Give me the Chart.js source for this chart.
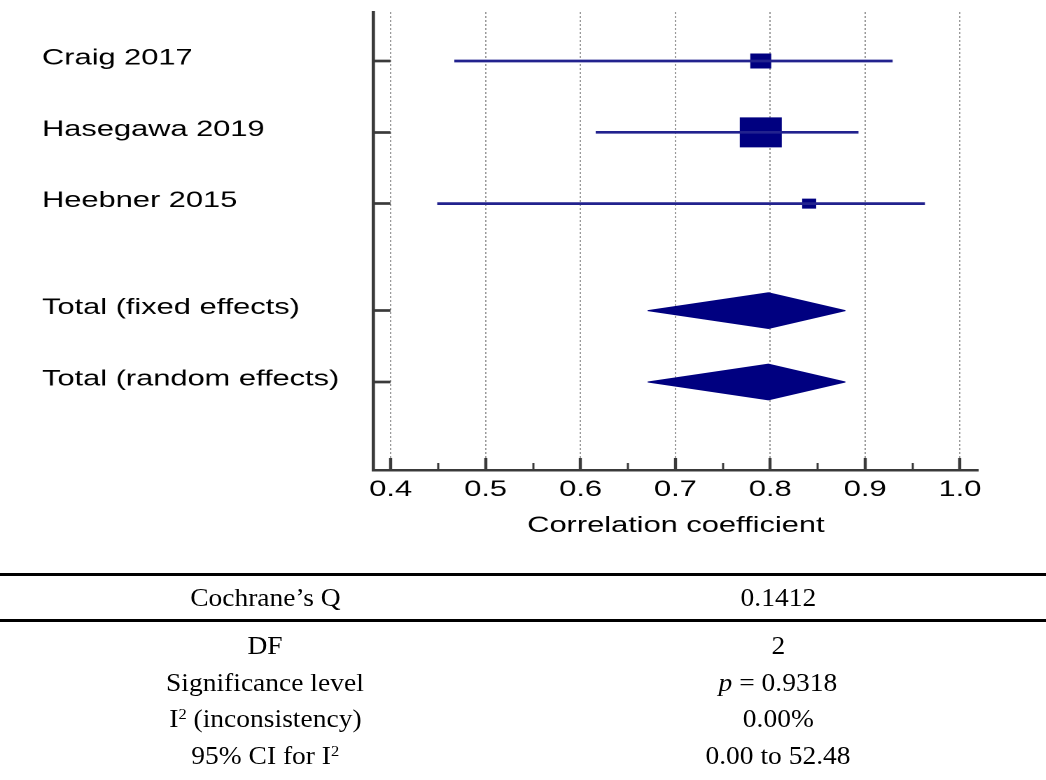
<!DOCTYPE html>
<html>
<head>
<meta charset="utf-8">
<script src="https://cdn.jsdelivr.net/npm/chart.js@4.4.1/dist/chart.umd.min.js"></script>
<style>
  html, body { margin: 0; padding: 0; background: #fff; }
  body { width: 1046px; height: 780px; position: relative; overflow: hidden; }
  /* the reference plot is stretched sideways, so the chart is drawn narrow and widened */
  #plot { position: absolute; left: 0; top: 0; width: 747px; height: 560px; transform: scaleX(1.4); transform-origin: 0 0; }
  #stats { position: absolute; left: 0; top: 0; width: 1046px; height: 780px; font-family: 'Liberation Serif', 'Times New Roman', serif; font-size: 25px; color: #000; }
  .rule { position: absolute; left: 0; width: 1046px; background: #000; }
  .row { position: absolute; left: 0; width: 1046px; height: 36px; line-height: 36px; }
  .cell { position: absolute; top: 0; text-align: center; white-space: nowrap; }
  .cell span { display: inline-block; transform: scaleX(1.1); }
  sup { font-size: 15px; line-height: 0; vertical-align: 8px; }
</style>
</head>
<body>
<div id="plot"><canvas id="forest"></canvas></div>
<div id="stats"></div>
<script>
let studies = ['Craig 2017', 'Hasegawa 2019', 'Heebner 2015'];
let studyR = [0.790, 0.790, 0.841];
let studyLo = [0.467, 0.616, 0.449];
let studyHi = [0.929, 0.893, 0.963];
let studyWeight = [18.3, 73.5, 8.2];

let totals = ['Total (fixed effects)', 'Total (random effects)'];
let totalR = [0.798, 0.798];
let totalLo = [0.671, 0.671];
let totalHi = [0.879, 0.879];

let rowPos = [1, 2, 3, 4.5, 5.5];
let xTicks = [0.4, 0.5, 0.6, 0.7, 0.8, 0.9, 1.0];
let xMinor = [0.45, 0.55, 0.65, 0.75, 0.85, 0.95];

let statNames = ['Cochrane’s Q', 'DF', 'Significance level', 'I<sup>2</sup> (inconsistency)', '95% CI for I<sup>2</sup>'];
let statValues = ['0.1412', '2', '<i>p</i> = 0.9318', '0.00%', '0.00 to 52.48'];

let navy = '#000080';
let axisColor = '#3a3a3a';
let labelFont = { family: "'Liberation Sans', Arial, sans-serif", size: 22, lineHeight: 1 };
let diamondHalf = 0.25;
let rowLabels = studies.concat(totals);

let datasets = [];

for (let i = 0; i < studies.length; i++) {
  datasets.push({
    type: 'line',
    label: studies[i],
    data: [{ x: studyLo[i], y: rowPos[i] }, { x: studyHi[i], y: rowPos[i] }],
    borderColor: '#22228e',
    borderWidth: 2.7,
    pointRadius: 0,
    fill: false
  });
}

datasets.push({
  type: 'scatter',
  label: 'estimates',
  data: studies.map((s, i) => ({ x: studyR[i], y: rowPos[i] })),
  pointStyle: 'rect',
  pointRadius: studyWeight.map(w => 3.5 * Math.sqrt(w) / Math.SQRT2),
  backgroundColor: navy,
  borderColor: navy,
  borderWidth: 0
});

for (let j = 0; j < totals.length; j++) {
  let y = rowPos[studies.length + j];
  datasets.push({
    type: 'line',
    label: totals[j],
    data: [{ x: totalLo[j], y: y }, { x: totalR[j], y: y - diamondHalf }, { x: totalHi[j], y: y }],
    borderColor: navy, borderWidth: 1, pointRadius: 0, fill: false
  });
  datasets.push({
    type: 'line',
    label: totals[j] + ' lower',
    data: [{ x: totalLo[j], y: y }, { x: totalR[j], y: y + diamondHalf }, { x: totalHi[j], y: y }],
    borderColor: navy, borderWidth: 1, pointRadius: 0,
    fill: '-1', backgroundColor: navy
  });
}

let chartcontext = document.getElementById('forest').getContext('2d');

let chartConfig = {
  type: 'scatter',
  data: { datasets: datasets },
  options: {
    responsive: true,
    maintainAspectRatio: false,
    devicePixelRatio: 2,
    animation: false,
    layout: { autoPadding: false, padding: { left: 30, right: 48.4, top: 12, bottom: 10 } },
    plugins: { legend: { display: false }, tooltip: { enabled: false } },
    scales: {
      x: {
        type: 'linear', position: 'bottom', weight: 1,
        min: 0.382, max: 1.019,
        afterBuildTicks: s => { s.ticks = xTicks.map(v => ({ value: v })); },
        afterFit: s => { s.height = 80; },
        ticks: { callback: v => v.toFixed(1), font: labelFont, color: '#000', padding: 21, maxRotation: 0, autoSkip: false },
        grid: { color: '#9a9a9a', lineWidth: 1, drawTicks: true, tickLength: -12, tickWidth: 2.2, tickColor: axisColor },
        border: { display: true, color: axisColor, width: 2.5, dash: [2, 2] },
        title: { display: true, text: 'Correlation coefficient', color: '#000', font: labelFont, padding: { top: 0, bottom: 13 } }
      },
      xMinor: {
        type: 'linear', position: 'bottom', weight: 0,
        min: 0.382, max: 1.019,
        afterBuildTicks: s => { s.ticks = xMinor.map(v => ({ value: v })); },
        afterFit: s => { s.height = 0; },
        ticks: { display: false },
        grid: { drawOnChartArea: false, drawTicks: true, tickLength: -7, tickWidth: 1.5, tickColor: axisColor },
        border: { display: false }
      },
      y: {
        type: 'linear', position: 'left', reverse: true,
        min: 0.313, max: 6.734,
        afterBuildTicks: s => { s.ticks = rowPos.map(v => ({ value: v })); },
        afterFit: s => { s.width = 236.9; },
        ticks: { callback: (v, i) => rowLabels[i], font: labelFont, color: '#000', crossAlign: 'far', padding: 0, labelOffset: -2.5, autoSkip: false },
        grid: { drawOnChartArea: false, drawTicks: true, tickLength: -12, tickWidth: 2.7, tickColor: axisColor },
        border: { display: true, color: axisColor, width: 2.35 }
      }
    }
  }
};

let mychart = new Chart(chartcontext, chartConfig);

// statistics table under the plot
let stats = document.getElementById('stats');
let html = '<div class="rule" style="top:573px;height:3px"></div>';
html += '<div class="rule" style="top:619px;height:2.5px"></div>';
let rowTops = [580, 628, 665, 701, 738];
for (let i = 0; i < statNames.length; i++) {
  html += '<div class="row" style="top:' + rowTops[i] + 'px">' +
    '<div class="cell" style="left:0;width:530px"><span>' + statNames[i] + '</span></div>' +
    '<div class="cell" style="left:530px;width:496px"><span>' + statValues[i] + '</span></div>' +
    '</div>';
}
stats.innerHTML = html;
</script>
</body>
</html>
